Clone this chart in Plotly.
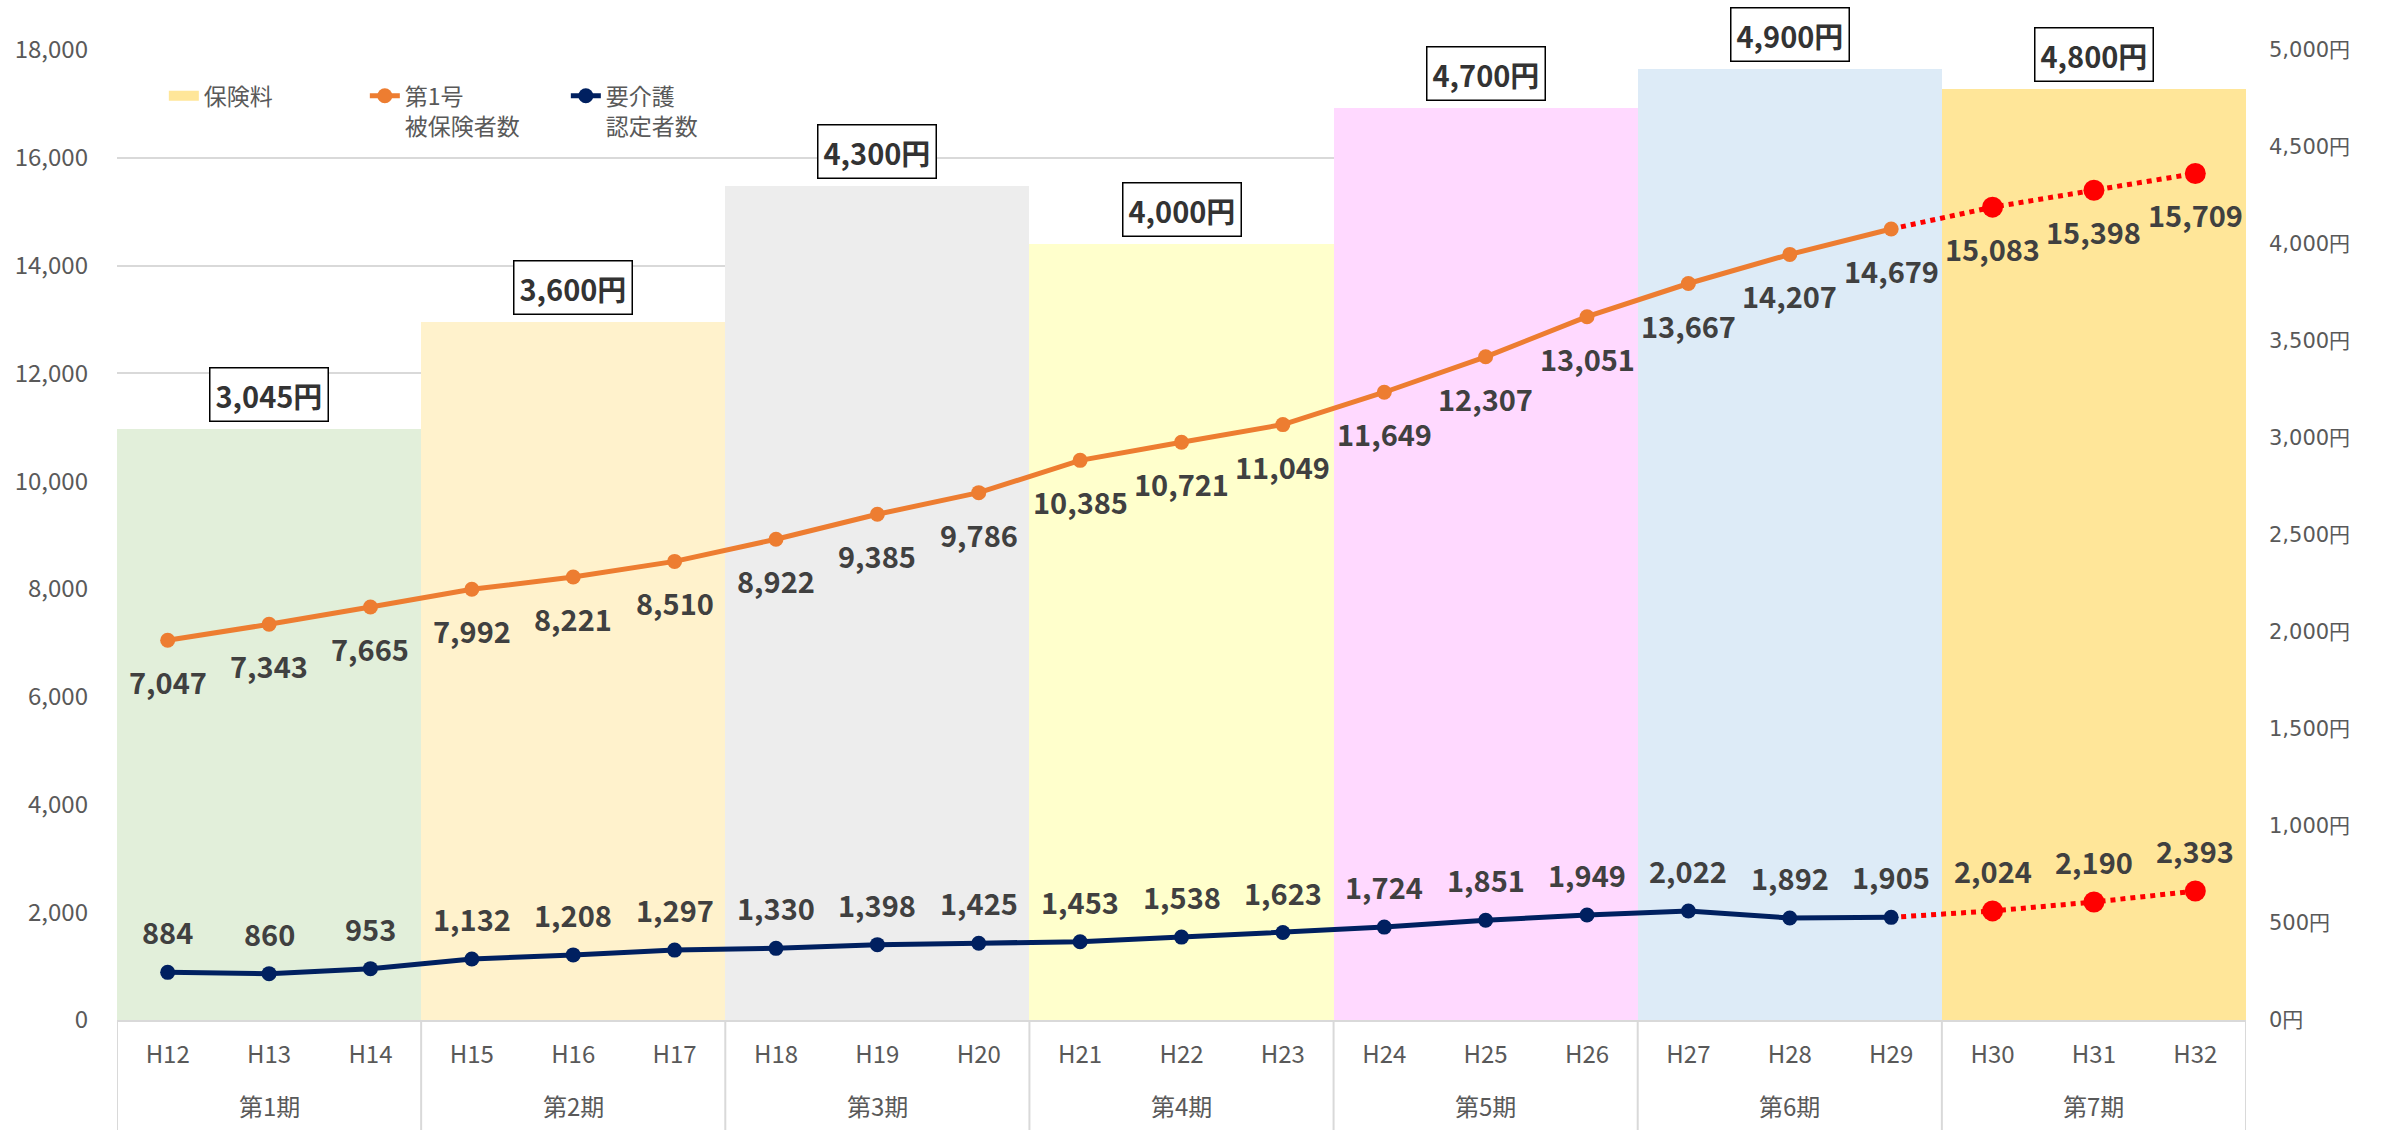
import plotly.graph_objects as go

# ---------------- data ----------------
years = ["H12", "H13", "H14", "H15", "H16", "H17", "H18", "H19", "H20", "H21", "H22",
         "H23", "H24", "H25", "H26", "H27", "H28", "H29", "H30", "H31", "H32"]
periods = ["第1期", "第2期", "第3期", "第4期", "第5期", "第6期", "第7期"]
premium = [3045, 3600, 4300, 4000, 4700, 4900, 4800]          # 保険料 (円)
period_colors = ["#E2EFDA", "#FFF2CC", "#EDEDED", "#FFFFCC", "#FFD9FF", "#DDEBF7", "#FFE699"]

insured_actual = [7047, 7343, 7665, 7992, 8221, 8510, 8922, 9385, 9786, 10385, 10721,
                  11049, 11649, 12307, 13051, 13667, 14207, 14679]
insured_proj = [15083, 15398, 15709]
cert_actual = [884, 860, 953, 1132, 1208, 1297, 1330, 1398, 1425, 1453, 1538,
               1623, 1724, 1851, 1949, 2022, 1892, 1905]
cert_proj = [2024, 2190, 2393]

FONT = "Noto Sans CJK JP"
LABEL_COLOR = "#404040"
AX_COLOR = "#595959"
GRID = "#D9D9D9"
ORANGE = "#ED7D31"
NAVY = "#002060"
RED = "#FF0000"

n = len(years)
per_size = n // len(periods)
prem_of_year = [premium[i // per_size] for i in range(n)]
col_of_year = [period_colors[i // per_size] for i in range(n)]
na = len(insured_actual)

fig = go.Figure()

# premium bars (right axis)
fig.add_trace(go.Bar(
    x=years, y=prem_of_year, marker=dict(color=col_of_year, line=dict(width=0)),
    name="保険料", showlegend=False, yaxis="y", hoverinfo="skip"))
# legend entry for the bars
fig.add_trace(go.Scatter(
    x=[years[-1]], y=[None], mode="lines", line=dict(color=period_colors[-1], width=14),
    name="保険料", showlegend=True, yaxis="y", hoverinfo="skip", legendrank=1))

# projections (drawn first so actual markers sit on top)
fig.add_trace(go.Scatter(
    x=years[na - 1:], y=[insured_actual[-1]] + insured_proj,
    mode="lines+markers", line=dict(color=RED, width=5, dash="dot"),
    marker=dict(color=RED, opacity=1, size=[0] + [21] * len(insured_proj), line=dict(width=0)),
    yaxis="y2", showlegend=False, hoverinfo="skip"))
fig.add_trace(go.Scatter(
    x=years[na - 1:], y=[cert_actual[-1]] + cert_proj,
    mode="lines+markers", line=dict(color=RED, width=5, dash="dot"),
    marker=dict(color=RED, opacity=1, size=[0] + [21] * len(cert_proj), line=dict(width=0)),
    yaxis="y2", showlegend=False, hoverinfo="skip"))

fig.add_trace(go.Scatter(
    x=years[:na], y=insured_actual, mode="lines+markers",
    line=dict(color=ORANGE, width=5), marker=dict(color=ORANGE, size=15),
    name="第1号<br>被保険者数", yaxis="y2", hoverinfo="skip", legendrank=2))
fig.add_trace(go.Scatter(
    x=years[:na], y=cert_actual, mode="lines+markers",
    line=dict(color=NAVY, width=5), marker=dict(color=NAVY, size=15),
    name="要介護<br>認定者数", yaxis="y2", hoverinfo="skip", legendrank=3))

annotations = []
shapes = []
insured_all = insured_actual + insured_proj
cert_all = cert_actual + cert_proj
lab_font = dict(family=FONT, size=29, color=LABEL_COLOR, weight="bold")
for i, v in enumerate(insured_all):
    annotations.append(dict(x=i, y=v, xref="x", yref="y2", text=f"{v:,}", showarrow=False,
                            yshift=-41, font=lab_font))
for i, v in enumerate(cert_all):
    annotations.append(dict(x=i, y=v, xref="x", yref="y2", text=f"{v:,}", showarrow=False,
                            yshift=41, font=lab_font))
for k, p in enumerate(premium):
    annotations.append(dict(x=per_size * k + (per_size - 1) / 2, y=p, xref="x", yref="y",
                            text=f"{p:,}円", showarrow=False,
                            yanchor="bottom", yshift=7, bgcolor="white", bordercolor="black",
                            borderwidth=1.5, borderpad=5,
                            font=dict(family=FONT, size=29, color="#333333", weight="bold")))
# period row under the year labels
for k, name in enumerate(periods):
    annotations.append(dict(x=per_size * k + (per_size - 1) / 2, y=-0.088, xref="x", yref="paper",
                            text=name, showarrow=False, yanchor="middle",
                            font=dict(family=FONT, size=24, color=AX_COLOR)))
for k in range(len(periods) + 1):
    xb = per_size * k - 0.5
    shapes.append(dict(type="line", xref="x", yref="paper", x0=xb, x1=xb, y0=0, y1=-0.2,
                       line=dict(color=GRID, width=2)))

fig.update_layout(
    width=2381, height=1130,
    margin=dict(l=117, r=135, t=50, b=110),
    paper_bgcolor="white", plot_bgcolor="white",
    font=dict(family=FONT, color=AX_COLOR, size=24),
    bargap=0, barmode="overlay",
    annotations=annotations, shapes=shapes,
    legend=dict(orientation="h", x=0.022, y=0.975, xanchor="left", yanchor="top",
                bgcolor="rgba(0,0,0,0)", font=dict(family=FONT, size=23, color=AX_COLOR),
                entrywidth=156, entrywidthmode="pixels", valign="top", traceorder="normal"),
    xaxis=dict(type="category", range=[-0.5, n - 0.5], showline=True, linecolor=GRID, linewidth=2,
               ticks="", ticklabelstandoff=12,
               tickfont=dict(family=FONT, size=24, color=AX_COLOR), showgrid=False),
    yaxis=dict(side="right", range=[0, 5000], dtick=500, tickformat=",", ticksuffix="円",
               showgrid=False, zeroline=False, ticklabelstandoff=22,
               tickfont=dict(family="DejaVu Sans, " + FONT, size=21, color=AX_COLOR)),
    yaxis2=dict(side="left", overlaying="y", range=[0, 18000], dtick=2000, tickformat=",",
                showgrid=True, gridcolor=GRID, gridwidth=2, zeroline=False,
                ticklabelstandoff=28, tickfont=dict(family=FONT, size=24, color=AX_COLOR)),
)

fig.write_html("out.html")
